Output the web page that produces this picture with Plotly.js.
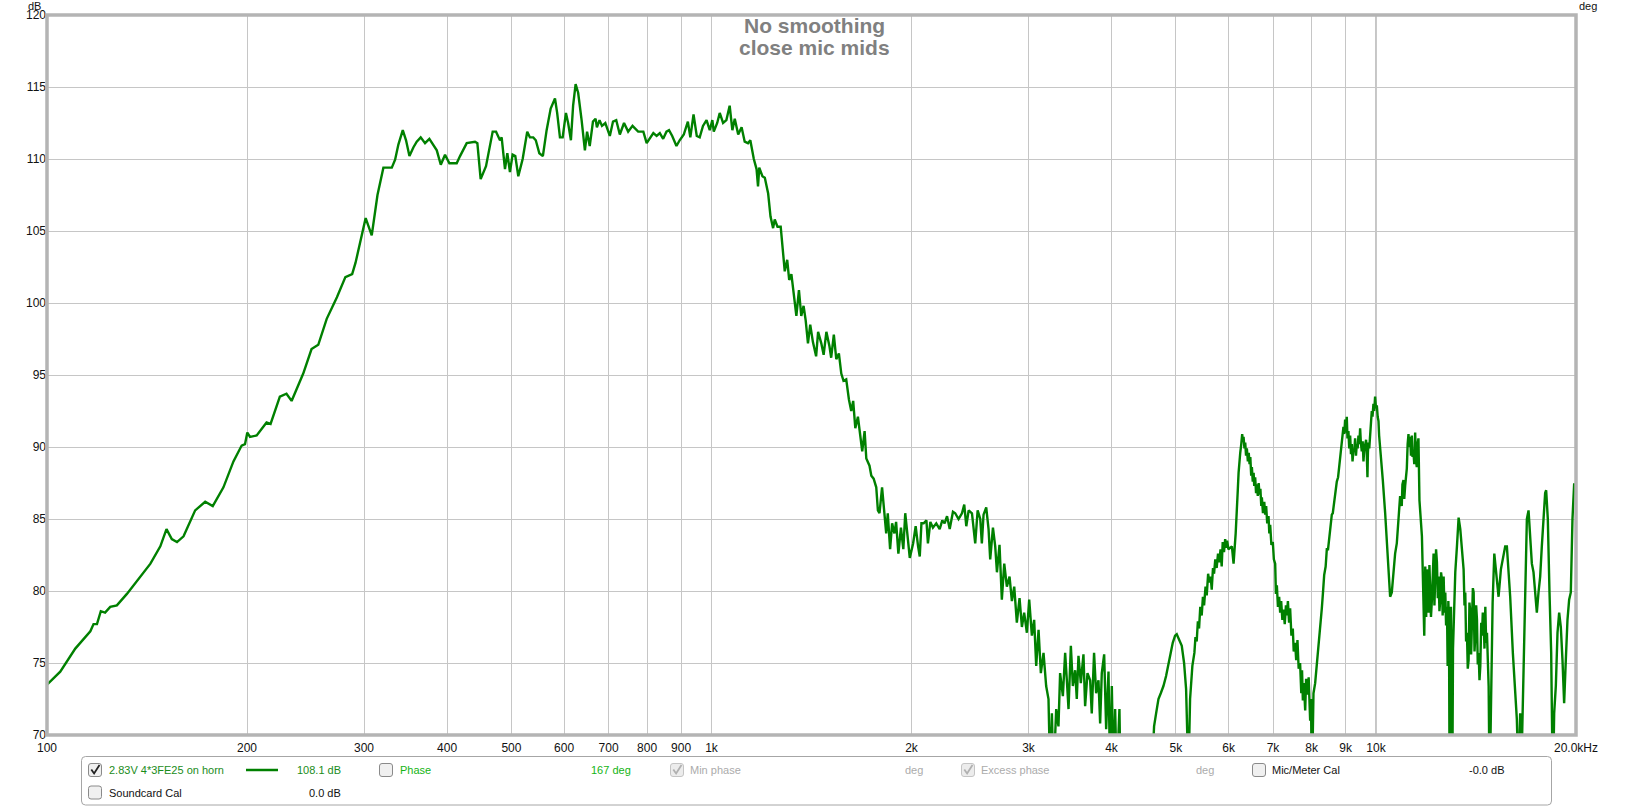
<!DOCTYPE html>
<html><head><meta charset="utf-8">
<script src="https://cdn.plot.ly/plotly-3.0.1.min.js"></script>
<style>html,body{margin:0;padding:0;background:#fff;overflow:hidden}#chart{width:1633px;height:807px;}</style>
</head><body><div id="chart"></div>
<script>
const seriesName = '2.83V 4*3FE25 on horn';
// [frequency Hz, level dB], segment by segment
const riseBand = [[100,73.5],[104.7,74.4],[110.3,76.0],[116.2,77.2],[117.5,77.7],[118.9,77.7],[120.5,78.6],[122.3,78.5],[124.5,78.9],[127.4,79.0],[131.9,79.8],[136.6,80.7],[143.1,81.9],[148.1,83.1],[151.3,84.3],[154.1,83.6],[156.9,83.4],[160.5,83.8],[167.1,85.6],[173,86.2],[177.6,85.9],[184.3,87.2],[190.8,89.0],[196.3,90.1],[198.6,90.2],[200.2,91.0],[202.1,90.7],[206.8,90.8],[214,91.7],[217,91.6],[224.1,93.5],[229.3,93.7],[233.4,93.2],[243,95.1],[250.1,96.8],[256,97.1],[263.6,98.9],[273.1,100.4],[281.2,101.8],[287.9,102.0],[291.3,102.8],[301.7,105.9],[308.1,104.7],[314.3,107.5]];
const plateauBand = [[320.8,109.4],[330.3,109.4],[334.1,109.95],[337.9,111.0],[343.1,112.0],[347,111.3],[351.1,110.2],[355.9,110.8],[360.1,111.2],[365.1,111.5],[370.6,111.1],[376.2,111.4],[381.5,111.0],[386,110.6],[391.4,109.6],[397.2,110.3],[403.2,109.7],[413.6,109.7],[418.4,110.2],[428.2,111.1],[440.7,111.2],[444.3,111.1],[449.4,108.6],[457.8,109.5],[468.5,111.9],[474,111.9],[480.5,111.3],[483.3,111.5],[488.9,109.3],[492.9,110.4],[497.4,109.1],[502,110.3],[506.7,110.2],[512,108.8],[519.8,110.0],[528.1,111.9],[533.1,111.5],[539.2,111.5],[544,111.3],[550.7,110.4],[557.5,110.2],[564.8,112.0],[572.8,113.5],[581.4,114.2],[585.8,113.2],[591.5,111.5],[597.1,111.5],[603.9,113.2],[608.5,112.5],[614.4,111.3],[619.1,113.7],[624.5,115.2],[630,114.6],[633.9,113.4],[637.6,112.7],[644.9,110.6],[649.8,111.9],[655.8,110.9],[663.2,112.6],[669.2,112.8],[672.3,112.2],[678.4,112.7],[684.2,112.3],[692.2,112.5],[703.1,111.6],[710.9,112.6],[718.9,112.7],[727.9,111.7],[738.6,112.5],[749.2,111.9],[760.6,112.3],[775.6,111.9],[789.7,111.9],[798.8,111.1],[808.3,111.5],[817.5,111.8],[826.9,111.6],[836.1,111.8],[845.8,111.4],[855.5,111.9],[863.2,112.0],[872.8,111.6],[885.7,110.9],[895.6,111.3],[908.5,111.7],[921.4,112.6],[929.3,111.5],[939.7,113.1],[950.3,111.6]];
const fallBand = [[960,111.5],[971,112.3],[983,112.7],[994,112.0],[1003,112.7],[1008,111.9],[1020,112.5],[1029,113.2],[1041,112.5],[1053,112.7],[1065,113.7],[1075,112.0],[1084,112.8],[1097,111.7],[1110,112.2],[1122,111.2],[1135,111.1],[1144,111.3],[1158,110.0],[1169,109.3],[1175,108.1],[1180,109.4],[1193,108.8],[1203,108.7],[1217,107.6],[1227,106.0],[1238,105.2],[1245,105.8],[1257,105.3],[1271,105.3],[1282,103.5],[1289,102.2],[1300,103.0],[1309,101.6],[1319,102.0],[1334,100.2],[1342,99.1],[1354,100.9],[1365,99.1],[1376,99.8],[1386,98.8],[1397,97.2],[1408,98.5],[1421,97.3],[1437,96.3],[1447,98.0],[1463,97.2],[1475,96.4],[1489,98.0],[1505,97.0],[1514,96.2],[1528,97.8],[1541,96.1],[1555,96.5],[1568,95.1],[1580,94.6],[1595,94.7],[1610,93.3],[1623,92.5],[1634,93.2],[1646,91.3],[1661,92.1],[1674,91.0],[1686,89.7],[1700,91.1],[1710,89.2],[1729,88.7],[1740,88.0],[1754,87.8],[1770,87.2],[1780,85.6],[1790,85.4],[1806,87.2],[1821,85.4],[1832,84.0],[1842,85.4],[1857,82.9],[1870,84.7],[1885,84.0],[1896,84.8],[1911,82.6],[1928,84.4],[1944,82.9],[1957,85.4],[1972,83.8],[1988,82.3],[2011,83.3],[2029,84.5],[2046,83.1],[2058,82.4],[2070,84.7],[2086,84.7],[2106,84.9],[2117,83.3],[2135,84.8],[2154,84.4],[2179,84.7],[2205,84.3],[2225,84.9],[2243,84.7],[2262,85.2],[2283,84.3]];
const shelfBand = [[2309,85.5],[2327,85.4],[2354,85.0],[2382,85.4],[2401,86.0],[2418,84.5],[2438,85.6],[2466,85.4],[2494,83.3],[2515,85.6],[2538,85.0],[2552,83.3],[2567,85.3],[2591,85.8],[2612,84.3],[2627,82.2],[2652,84.4],[2673,83.1],[2689,81.3],[2713,83.2],[2735,79.4],[2758,81.9],[2783,80.3],[2809,81.0],[2832,79.3],[2855,80.3],[2881,77.8],[2908,79.5],[2932,77.5],[2955,78.5],[2983,77.1],[3007,79.4],[3035,76.9],[3059,78.0],[3081,74.8],[3106,77.3],[3131,74.3],[3160,75.7],[3189,73.4],[3215,72.5],[3234,67],[3253,71.5],[3271,67],[3302,71.8],[3328,70.6],[3347,74.3],[3379,72.7],[3406,75.7],[3426,73.8],[3446,71.8],[3474,76.2],[3498,73.4],[3526,74.5],[3546,72.5],[3567,75.5],[3596,73.6],[3629,75.6],[3650,72.0],[3680,74.3],[3714,73.8],[3735,71.5],[3765,75.7],[3792,72.9],[3823,73.8],[3845,70.8],[3867,74.3],[3899,75.6],[3926,70.4],[3958,74.4],[3980,67],[4004,73.4],[4027,67],[4050,71.8],[4073,67],[4111,71.8],[4130,66],[4300,60],[4500,62]];
const hornBand = [[4598,67],[4635,70.6],[4668,71.5],[4706,72.5],[4744,72.9],[4788,73.4],[4832,74.1],[4871,74.8],[4910,75.7],[4945,76.4],[4985,76.9],[5014,77.0],[5061,76.6],[5102,76.2],[5143,75.0],[5179,73.2],[5221,67],[5251,72.5],[5293,74.8],[5330,75.7],[5350,76.8],[5373,76.5],[5395,77.9],[5417,77.4],[5440,78.9],[5467,78.3],[5490,79.6],[5512,79.0],[5540,80.3],[5563,79.7],[5590,81.2],[5614,80.6],[5640,81.0],[5660,80.1],[5685,81.6],[5706,81.2],[5730,82.2],[5758,81.6],[5785,82.6],[5812,82.0],[5835,82.9],[5859,81.7],[5880,83.4],[5906,82.7],[5930,83.6],[5947,83.0],[5970,83.5],[5997,82.9]];
const peakBand = [[6070,83.1],[6105,81.9],[6150,84.0],[6176,85.4],[6195,87.0],[6212,88.2],[6230,89.3],[6248,89.6],[6270,90.2],[6290,90.9],[6306,90.4],[6320,90.7],[6340,89.9],[6357,90.3],[6375,89.4],[6393,89.9],[6415,89.0],[6435,89.6],[6453,88.8],[6470,89.3],[6490,88.0],[6505,88.6],[6525,87.6],[6545,88.2],[6558,87.3],[6580,87.9],[6600,86.8],[6618,87.4],[6640,86.6],[6660,87.5],[6680,86.7],[6700,87.1],[6720,85.9],[6734,86.5],[6760,85.4],[6790,86.2],[6812,85.3],[6835,85.9],[6860,84.7],[6891,85.2],[6910,84.0],[6931,84.6],[6960,83.2],[6995,83.4],[7020,82.2],[7052,81.9],[7070,79.8],[7093,80.4],[7120,78.9],[7150,79.6],[7175,78.5],[7200,79.3],[7230,78.0],[7258,78.7],[7290,77.7],[7320,79.0],[7342,78.3],[7370,79.3],[7400,77.8],[7427,78.8],[7460,76.9],[7496,77.4],[7520,75.8],[7557,76.4],[7585,75.2],[7618,76.6],[7650,74.6],[7688,75.0],[7720,72.9],[7740,74.5],[7762,72.4],[7790,73.6],[7825,71.7],[7850,73.9],[7888,72.8],[7920,74.0],[7961,71.0],[7985,72.5],[8007,66],[8030,71.4],[8053,72.9],[8100,73.6],[8147,74.8],[8180,75.6],[8222,76.9],[8250,77.5],[8289,78.8],[8320,79.8],[8357,81.1],[8400,81.7],[8434,82.9],[8470,82.9],[8512,84.0],[8545,84.3],[8581,85.3],[8610,85.4],[8651,86.2],[8690,86.8],[8731,87.6],[8770,87.9],[8812,88.7],[8850,89.5],[8883,90.3],[8934,91.4],[8960,90.9],[8986,91.9],[9010,91.0],[9038,92.1],[9060,90.6],[9090,91.1],[9115,89.9],[9144,90.8],[9170,89.5],[9197,90.2],[9220,89.0],[9250,89.8],[9275,89.7],[9303,90.6],[9330,89.4],[9357,90.2],[9385,89.9],[9411,90.8],[9440,90.2],[9466,91.3],[9490,90.3],[9521,89.7],[9550,90.4],[9576,89.0],[9600,89.8],[9631,90.1],[9664,90.5],[9690,89.3],[9709,87.9],[9725,89.6],[9743,90.3],[9770,89.9],[9799,90.8],[9830,91.5],[9856,92.5],[9880,92.1],[9913,93.0],[9940,92.5],[9970,93.5],[10000,92.7],[10030,92.9],[10060,92.1],[10088,91.8],[10110,90.8],[10146,90.0],[10240,87.7],[10324,85.4],[10383,83.3],[10443,80.8],[10503,79.6],[10564,79.9],[10625,81.3],[10686,82.6],[10748,83.3],[10810,84.7],[10873,86.6],[10935,85.9],[10960,87.4],[11001,87.7],[11030,86.4],[11064,87.3],[11090,88.0],[11128,88.5],[11160,90.2],[11193,90.9],[11220,90.0],[11257,90.7],[11290,89.4],[11322,90.8],[11350,89.3],[11388,89.6],[11420,88.8],[11454,91.0],[11490,89.0],[11520,88.6],[11550,90.2],[11586,90.6],[11626,86.3]];
const trebleBand = [[11726,83.8],[11821,76.9],[11862,81.7],[11900,78.2],[11930,81.5],[11965,79.0],[12000,78.5],[12035,81.8],[12069,80.5],[12100,78.2],[12139,79.4],[12175,82.3],[12210,82.6],[12245,79.0],[12280,80.4],[12315,82.9],[12352,82.0],[12390,79.5],[12424,81.0],[12460,78.6],[12496,79.4],[12530,81.3],[12568,80.8],[12600,78.3],[12643,81.0],[12680,78.5],[12716,79.9],[12750,77.6],[12790,78.9],[12819,74.8],[12850,79.3],[12878,78.0],[12908,66],[12940,77.2],[12968,78.9],[13000,72.0],[13027,66],[13060,76.0],[13088,78.0],[13163,81.3],[13239,83.1],[13316,85.1],[13393,84.3],[13470,82.6],[13548,81.5],[13590,79.0],[13627,79.9],[13665,76.5],[13706,77.1],[13745,74.6],[13785,75.2],[13825,79.2],[13868,78.5],[13905,75.6],[13948,77.5],[13990,80.2],[14028,79.9],[14070,75.8],[14110,76.9],[14150,79.0],[14191,78.0],[14230,74.9],[14273,75.7],[14315,73.8],[14356,74.8],[14400,77.8],[14439,76.9],[14480,78.5],[14523,78.0],[14565,76.0],[14607,78.9],[14650,76.4],[14691,77.1],[14776,73.4],[14827,66],[14896,73.4],[14982,79.2],[15069,82.6],[15170,81.0],[15293,79.6],[15417,81.5],[15524,82.2],[15649,83.1],[15740,83.1],[15831,81.5],[15922,79.6],[16069,75.7],[16199,72.7],[16293,71.1],[16387,67],[16482,71.5],[16577,69],[16676,74.3],[16773,80.3],[16869,85.0],[16967,85.6],[17065,84.0],[17163,81.9],[17262,81.3],[17362,79.9],[17462,78.5],[17563,79.9],[17665,81.0],[17766,83.1],[17869,85.0],[17972,86.8],[18035,87.0],[18139,85.0],[18246,79.9],[18352,75.7],[18458,66],[18543,71.5],[18650,73.4],[18758,77.1],[18866,78.5],[18975,77.5],[19085,75.2],[19195,72.2],[19306,75.2],[19418,78.0],[19530,79.4],[19643,79.9],[19757,85.0],[19871,87.4],[19940,87.4]];

const xTickVals = [100,200,300,400,500,600,700,800,900,1000,2000,3000,4000,5000,6000,7000,8000,9000,10000,20000];
const xTickText = ['100','200','300','400','500','600','700','800','900','1k','2k','3k','4k','5k','6k','7k','8k','9k','10k','20.0kHz'];
const dbTicks = [70,75,80,85,90,95,100,105,110,115,120];
const degTicks = [-270,-180,-90,0,90,180,270,360,450,540,630];
const majorFreqs = [1000,10000];
const titleLines = ['No smoothing','close mic mids'];
const legendRow1 = {level:'108.1 dB', phase:'Phase', phaseValue:'167 deg', minPhase:'Min phase', excess:'Excess phase', deg:'deg', mic:'Mic/Meter Cal', micValue:'-0.0 dB'};
const legendRow2 = {name:'Soundcard Cal', value:'0.0 dB'};

const allPoints = [].concat(riseBand, plateauBand, fallBand, shelfBand, hornBand, peakBand, trebleBand);
const freqHz = allPoints.map(p=>p[0]);
const splDb = allPoints.map(p=>p[1]);

// layout helpers: pixel -> paper
const ML=47, MT=15, PW=1529, PH=720;
const PX = x => (x-ML)/PW;
const PY = y => (MT+PH-y)/PH;
function rrect(x0,y0,x1,y1,r){
  const p=(x,y)=>PX(x)+','+PY(y);
  return 'M'+p(x0+r,y0)+' L'+p(x1-r,y0)+' Q'+p(x1,y0)+' '+p(x1,y0+r)+' L'+p(x1,y1-r)+' Q'+p(x1,y1)+' '+p(x1-r,y1)+
    ' L'+p(x0+r,y1)+' Q'+p(x0,y1)+' '+p(x0,y1-r)+' L'+p(x0,y0+r)+' Q'+p(x0,y0)+' '+p(x0+r,y0)+' Z';
}
function checkPath(x0,y0){
  return 'M'+PX(x0+2.8)+','+PY(y0+6)+' L'+PX(x0+5.6)+','+PY(y0+10)+' L'+PX(x0+11)+','+PY(y0+1.6);
}
const shapes=[];
majorFreqs.forEach(f=>shapes.push({type:'line',xref:'x',yref:'paper',x0:f,x1:f,y0:0,y1:1,line:{color:'#8c8c8c',width:1},layer:'between'}));
shapes.push({type:'rect',xref:'paper',yref:'paper',x0:0,x1:1,y0:0,y1:1,line:{color:'#b4b4b4',width:3.5},layer:'above'});
shapes.push({type:'path',xref:'paper',yref:'paper',path:rrect(81.5,756.5,1551.5,805,4),line:{color:'#a6a6a6',width:1},fillcolor:'#ffffff',layer:'above'});
function checkbox(x0,y0,checked,disabled){
  shapes.push({type:'path',xref:'paper',yref:'paper',path:rrect(x0,y0,x0+13,y0+13,2.5),line:{color:disabled?'#c4c4c4':'#8a8a8a',width:1},fillcolor:disabled?'#ececec':'#f0f0f0',layer:'above'});
  if(checked) shapes.push({type:'path',xref:'paper',yref:'paper',path:checkPath(x0,y0),line:{color:disabled?'#b0b0b0':'#222222',width:1.8},layer:'above'});
}
checkbox(88.5,763.5,true,false);
checkbox(379.5,763.5,false,false);
checkbox(670.5,763.5,true,true);
checkbox(961.5,763.5,true,true);
checkbox(1252.5,763.5,false,false);
checkbox(88.5,786,false,false);
shapes.push({type:'line',xref:'paper',yref:'paper',x0:PX(246),x1:PX(278),y0:PY(770),y1:PY(770),line:{color:'#008000',width:2.5},layer:'above'});

const R1=PY(770), R2=PY(792.5);
const LF={family:'Liberation Sans, Arial, sans-serif',size:11};
function txt(t,x,y,anchor,color,size){
  return {text:t,xref:'paper',yref:'paper',x:PX(x),y:y,xanchor:anchor,yanchor:'middle',showarrow:false,
    font:Object.assign({},LF,{color:color,size:size||11}),borderpad:0};
}
const annotations=[
  {text:titleLines[0],xref:'paper',yref:'paper',x:PX(814),y:PY(26),xanchor:'center',yanchor:'middle',showarrow:false,font:{family:'Liberation Sans, Arial, sans-serif',size:21,color:'#808080',weight:'bold'}},
  {text:titleLines[1],xref:'paper',yref:'paper',x:PX(814),y:PY(48),xanchor:'center',yanchor:'middle',showarrow:false,font:{family:'Liberation Sans, Arial, sans-serif',size:21,color:'#808080',weight:'bold'}},
  txt('dB',41.5,PY(6),'right','#111',11),
  txt('deg',1578,PY(6),'left','#111',11),
  txt(seriesName,107.5,R1,'left','#1a8c1a'),
  txt(legendRow1.level,342,R1,'right','#1a8c1a'),
  txt(legendRow1.phase,398.5,R1,'left','#14b414'),
  txt(legendRow1.phaseValue,632,R1,'right','#14b414'),
  txt(legendRow1.minPhase,689,R1,'left','#ababab'),
  txt(legendRow1.deg,924,R1,'right','#ababab'),
  txt(legendRow1.excess,980,R1,'left','#ababab'),
  txt(legendRow1.deg,1215,R1,'right','#ababab'),
  txt(legendRow1.mic,1271,R1,'left','#111'),
  txt(legendRow1.micValue,1505,R1,'right','#111'),
  txt(legendRow2.name,107.5,R2,'left','#111'),
  txt(legendRow2.value,342,R2,'right','#111')
];

const traces=[{x:freqHz,y:splDb,type:'scatter',mode:'lines',name:seriesName,line:{color:'#008000',width:2.4},hoverinfo:'skip'}];

const layout={
  width:1633,height:807,
  margin:{l:ML,r:1633-ML-PW,t:MT,b:807-MT-PH,pad:0},
  paper_bgcolor:'#ffffff',plot_bgcolor:'#ffffff',showlegend:false,
  font:{family:'Liberation Sans, Arial, sans-serif',size:12,color:'#111'},
  xaxis:{type:'log',range:[2,Math.log10(20000)],tickvals:xTickVals,ticktext:xTickText,showgrid:true,gridcolor:'#c6c6c6',gridwidth:1,zeroline:false,showline:false,ticks:'',ticklabelstandoff:4,tickfont:{size:12,color:'#111'},fixedrange:true},
  yaxis:{range:[70,120],tickvals:dbTicks,showgrid:true,gridcolor:'#c6c6c6',gridwidth:1,zeroline:false,showline:false,ticks:'',tickfont:{size:12,color:'#111'},fixedrange:true},
  yaxis2:{overlaying:'y',side:'right',range:[-270,630],tickvals:degTicks,showgrid:false,zeroline:false,showline:false,ticks:'',tickfont:{size:12,color:'#111'},fixedrange:true},
  shapes:shapes,annotations:annotations
};
Plotly.newPlot('chart',traces,layout,{staticPlot:true,displayModeBar:false});
</script></body></html>
